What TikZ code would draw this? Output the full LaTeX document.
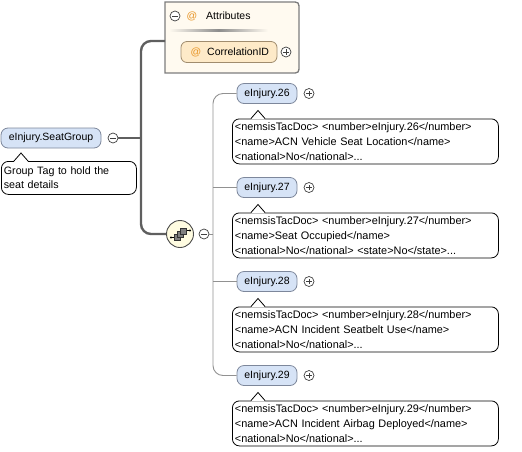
\documentclass[tikz,border=0pt]{standalone}
\usepackage{fontspec}
\setmainfont{Liberation Sans}
\definecolor{elemfill}{RGB}{214,227,246}
\definecolor{elemdraw}{RGB}{125,135,155}
\definecolor{attrfill}{RGB}{255,250,240}
\definecolor{attrdraw}{RGB}{125,125,125}
\definecolor{corrfill}{RGB}{254,234,200}
\definecolor{corrdraw}{RGB}{160,140,110}
\definecolor{seqfill}{RGB}{255,252,225}
\definecolor{atcol}{RGB}{232,150,40}
\definecolor{trunkcol}{RGB}{95,95,95}
\definecolor{branchcol}{RGB}{145,145,145}
\newcommand\lblfont{\fontsize{10.5}{15}\selectfont}
\newcommand\annfont{\fontsize{10.9}{15}\selectfont}
\newcommand\notchat[1]{%
  \fill[white] ([xshift=-7pt,yshift=-0.8pt]#1) -- ([yshift=8pt]#1) -- ([xshift=7pt,yshift=-0.8pt]#1) -- cycle;
  \draw[black, line width=0.8pt] ([xshift=-7pt]#1) -- ([yshift=8pt]#1) -- ([xshift=7pt]#1);}
\begin{document}
\begin{tikzpicture}[x=1pt,y=-1pt,
  elem/.style={draw=elemdraw, fill=elemfill, rounded corners=7, minimum height=20, inner sep=0, font=\lblfont, line width=0.8pt},
  lbl/.style={inner sep=0, font=\lblfont},
  atsign/.style={inner sep=0, font=\lblfont, text=atcol},
  pm/.style={circle, draw=black!75, fill=white, minimum size=10, inner sep=0, line width=0.7pt},
  minus/.style={pm, path picture={\draw[line width=0.7pt] ([xshift=-2.6pt]path picture bounding box.center) -- ([xshift=2.6pt]path picture bounding box.center);}},
  plus/.style={pm, path picture={\draw[line width=0.7pt] ([xshift=-2.6pt]path picture bounding box.center) -- ([xshift=2.6pt]path picture bounding box.center) ([yshift=-2.6pt]path picture bounding box.center) -- ([yshift=2.6pt]path picture bounding box.center);}},
  annot/.style={draw=black, fill=white, rounded corners=7, line width=0.8pt, inner xsep=2.5, inner ysep=0, align=left, font=\annfont, anchor=north west},
  trunk/.style={draw=trunkcol, line width=2.4pt},
  branch/.style={draw=branchcol, line width=0.9pt},
]
\useasboundingbox (0,0) rectangle (522,451);

% ---------- root element ----------
\node[elem, minimum width=100] (sg) at (51,138) {eInjury.SeatGroup};
\node[minus] (sgm) at (113,138) {};
\node[annot, text width=130, minimum height=33, font=\fontsize{10.7}{13.5}\selectfont] (sga) at (1,161) {Group Tag to hold the\\seat details};
\path (sga.north west) ++(20,0) coordinate (sgn);
\notchat{sgn}

% ---------- attributes box ----------
\draw[fill=attrfill, draw=attrdraw, line width=1.3pt]
  (165,2) -- (291,2) .. controls (299,2) .. (299,10) -- (299,65) .. controls (299,73) .. (291,73) -- (165,73) -- cycle;
\coordinate (attrin) at (165,41);
\node[minus] (attm) at (175,16) {};
\node[atsign] (atta) at (192,16) {@};
\node[lbl, anchor=west] (attl) at (206,16) {Attributes};
\shade[left color=attrfill, right color=attrfill, middle color=black!45] (169,29.5) rectangle (268,31.3);
\node[draw=corrdraw, fill=corrfill, rounded corners=6, minimum width=96, minimum height=21, inner sep=0, line width=0.8pt] (corr) at (229,52) {};
\node[atsign] (corra) at (196,52) {@};
\node[lbl, anchor=west] (corrl) at (207,52) {CorrelationID};
\node[plus] (corrp) at (286,52) {};

% ---------- main trunk ----------
\coordinate (tj) at (141,138);
\node[circle, draw=black!70, fill=seqfill, minimum size=27, inner sep=0, line width=0.9pt] (seq) at (180,234) {};
\draw[trunk] (sgm.east) -- (tj);
\draw[trunk, rounded corners=10] (attrin) -| (tj) |- (seq.west);

% sequence icon
\begin{scope}[shift={(seq.center)}]
  \draw[black, line width=0.8pt] (-9,3.5) -- (-4,3.5) (4,-3.5) -- (10,-3.5);
  \fill[black] (-9,3.5) circle (1.2) (10,-3.5) circle (1.2);
  \foreach \d in {-3,0,3}
    \draw[fill=black!50, draw=black!80, line width=0.6pt] ({\d-3},{-\d-3}) rectangle ({\d+3},{-\d+3});
\end{scope}
\node[minus] (seqm) at (204,234) {};

% ---------- children ----------
\coordinate (cj) at (213,234);
\foreach \n/\y/\la/\lb/\lc in {
  26/93.5/{<nemsisTacDoc> <number>eInjury.26</number>}/{<name>ACN Vehicle Seat Location</name>}/{<national>No</national>...},
  27/187.5/{<nemsisTacDoc> <number>eInjury.27</number>}/{<name>Seat Occupied</name>}/{<national>No</national> <state>No</state>...},
  28/281.5/{<nemsisTacDoc> <number>eInjury.28</number>}/{<name>ACN Incident Seatbelt Use</name>}/{<national>No</national>...},
  29/375.5/{<nemsisTacDoc> <number>eInjury.29</number>}/{<name>ACN Incident Airbag Deployed</name>}/{<national>No</national>...}} {
  \node[elem, minimum width=60] (c\n) at (267,\y) {eInjury.\n};
  \node[plus] (p\n) at (309,\y) {};
  \node[annot, text width=261, minimum height=45] (a\n) at (232,{\y+25}) {\la\\\lb\\\lc};
  \path (a\n.north west) ++(26,0) coordinate (n\n);
  \notchat{n\n}
}
\draw[branch] (seqm.east) -- (cj);
\draw[branch, rounded corners=10] (c26.west) -| (cj) |- (c29.west);
\draw[branch] (c27.west) -- (c27.west -| cj);
\draw[branch] (c28.west) -- (c28.west -| cj);
\end{tikzpicture}
\end{document}
